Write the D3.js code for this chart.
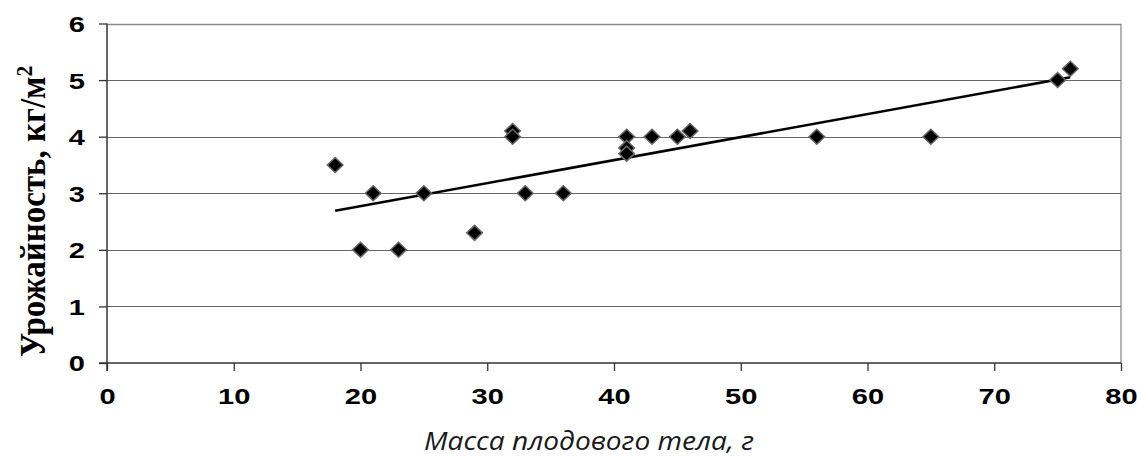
<!DOCTYPE html>
<html>
<head>
<meta charset="utf-8">
<script src="https://cdn.jsdelivr.net/npm/d3@7"></script>
<style>
  html, body { margin: 0; padding: 0; background: #fff; }
  svg { display: block; }
</style>
</head>
<body>
<svg id="chart" width="1137" height="457"></svg>
<script>
// ---- data ----
const massX   = [18, 20, 21, 23, 25, 29, 32, 32, 33, 36, 41, 41, 41, 43, 45, 46, 56, 65, 75, 76];
const yieldY  = [3.5, 2, 3, 2, 3, 2.3, 4.1, 4.0, 3, 3, 4.0, 3.8, 3.7, 4, 4, 4.1, 4, 4, 5, 5.2];
const trendX  = [18, 76];
const trendY  = [2.69, 5.05];
const xTicks  = [0, 10, 20, 30, 40, 50, 60, 70, 80];
const yTicks  = [0, 1, 2, 3, 4, 5, 6];
const xTitle  = "Масса плодового тела, г";
const yTitle  = "Урожайность, кг/м";
const yTitleSup = "2";

// ---- layout ----
const svg = d3.select("#chart");
const L = 107, R = 1121, T = 23.5, B = 363;
const x = d3.scaleLinear().domain([0, 80]).range([L, R]);
const y = d3.scaleLinear().domain([0, 6]).range([B, T]);
const SX = 1.32; // horizontal stretch of the label glyphs

// grid lines
svg.append("g")
  .selectAll("line")
  .data(yTicks.filter(d => d > 0 && d < 6))
  .join("line")
  .attr("x1", L).attr("x2", R)
  .attr("y1", d => Math.round(y(d)) + 0.5).attr("y2", d => Math.round(y(d)) + 0.5)
  .attr("stroke", "#666").attr("stroke-width", 1.1);

// top & right border
svg.append("path")
  .attr("d", `M${L},${Math.round(T)+0.5}H${R}V${B}`)
  .attr("fill", "none").attr("stroke", "#8c8c8c").attr("stroke-width", 1.3);

// y axis
const gy = svg.append("g").attr("transform", `translate(${L},0)`)
  .call(d3.axisLeft(y).tickValues(yTicks).tickSize(8).tickFormat(d3.format("d")));
gy.select(".domain").remove();
gy.selectAll(".tick line").attr("stroke", "#333").attr("stroke-width", 1.3);
gy.selectAll(".tick text")
  .attr("x", -22 / SX)
  .attr("dy", "0.36em")
  .attr("transform", `scale(${SX},1)`)
  .attr("fill", "#000")
  .style("font-family", "'Liberation Sans', Arial, sans-serif")
  .style("font-weight", "bold")
  .style("font-size", "22px");

// x axis
const gx = svg.append("g").attr("transform", `translate(0,${B})`)
  .call(d3.axisBottom(x).tickValues(xTicks).tickSize(8).tickFormat(d3.format("d")));
gx.select(".domain").remove();
gx.selectAll(".tick line").attr("stroke", "#333").attr("stroke-width", 1.3);
gx.selectAll(".tick text")
  .attr("y", 25)
  .attr("dy", "0.71em")
  .attr("transform", `scale(${SX},1)`)
  .attr("fill", "#000")
  .style("font-family", "'Liberation Sans', Arial, sans-serif")
  .style("font-weight", "bold")
  .style("font-size", "22px");

// axis lines
svg.append("line").attr("x1", L).attr("x2", L).attr("y1", T).attr("y2", B + 8)
  .attr("stroke", "#333").attr("stroke-width", 1.5);
svg.append("line").attr("x1", L - 8).attr("x2", R).attr("y1", B).attr("y2", B)
  .attr("stroke", "#333").attr("stroke-width", 1.5);

// trend line
svg.append("path")
  .datum(trendX.map((d, i) => [d, trendY[i]]))
  .attr("d", d3.line().x(d => x(d[0])).y(d => y(d[1])))
  .attr("fill", "none").attr("stroke", "#000").attr("stroke-width", 2.6);

// diamond markers
const diamond = "M0,-7.5L7.8,0L0,7.5L-7.8,0Z";
svg.append("g")
  .selectAll("path")
  .data(massX.map((d, i) => [d, yieldY[i]]))
  .join("path")
  .attr("transform", d => `translate(${x(d[0])},${y(d[1])})`)
  .attr("d", diamond)
  .attr("fill", "#000")
  .attr("stroke", "#666").attr("stroke-width", 1.5);

// x title
svg.append("text")
  .attr("x", 589).attr("y", 450)
  .attr("text-anchor", "middle")
  .attr("textLength", 330).attr("lengthAdjust", "spacingAndGlyphs")
  .attr("fill", "#1a1a1a")
  .style("font-family", "'Open Sans', sans-serif")
  .style("font-style", "italic")
  .style("font-size", "26px")
  .text(xTitle);

// y title
const yt = svg.append("text")
  .attr("transform", "translate(45,357) rotate(-90) scale(1.03,1.12)")
  .attr("text-anchor", "start")
  .attr("fill", "#000")
  .style("font-family", "'Liberation Serif', 'Times New Roman', serif")
  .style("font-weight", "bold")
  .style("font-size", "32px");
yt.append("tspan").text(yTitle);
yt.append("tspan").attr("dy", "-0.55em").style("font-size", "21px").text(yTitleSup);
</script>
</body>
</html>
